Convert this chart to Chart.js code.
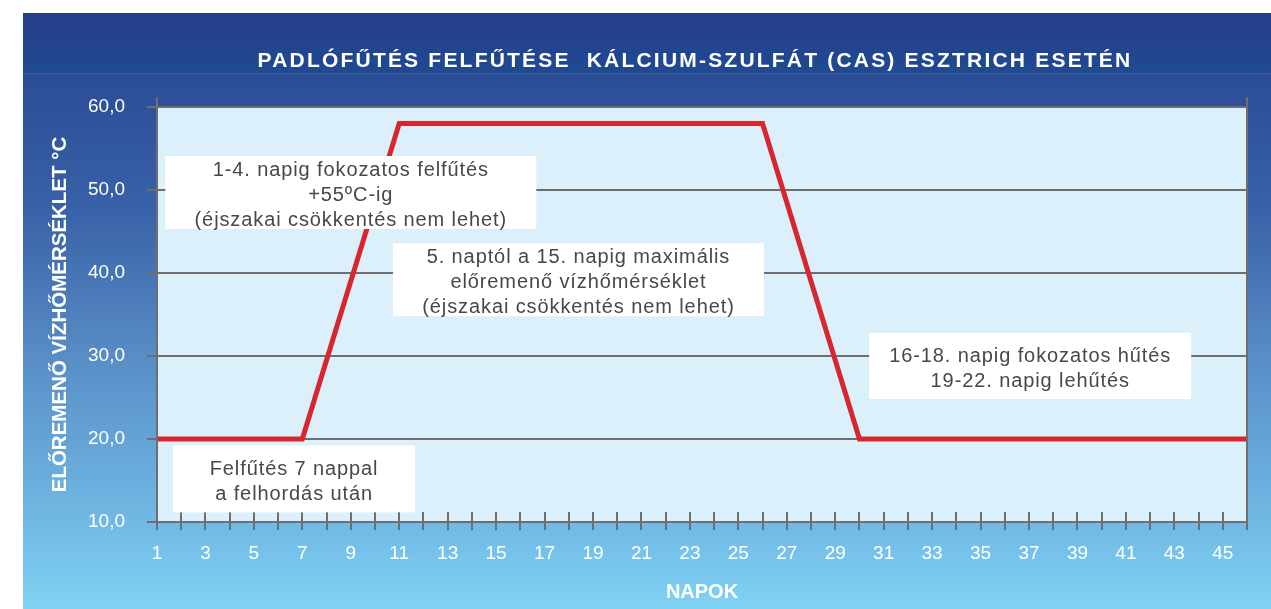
<!DOCTYPE html>
<html>
<head>
<meta charset="utf-8">
<script src="https://cdn.jsdelivr.net/npm/chart.js@4"></script>
<style>
  html, body { margin: 0; padding: 0; background: #fff; }
  #wrap { width: 1271px; height: 609px; }
</style>
</head>
<body>
<div id="wrap"><canvas id="myChart" width="1271" height="609"></canvas></div>
<script>
// data
const days = [1, 7, 11, 26, 30, 46];
const temps = [20, 20, 58, 58, 20, 20];

const chartTitle = "PADLÓFŰTÉS FELFŰTÉSE  KÁLCIUM-SZULFÁT (CAS) ESZTRICH ESETÉN";
const yTitle = "ELŐREMENŐ VÍZHŐMÉRSÉKLET °C";
const xTitle = "NAPOK";

const noteTexts = [
  ["1-4. napig fokozatos felfűtés", "+55ºC-ig", "(éjszakai csökkentés nem lehet)"],
  ["5. naptól a 15. napig maximális", "előremenő vízhőmérséklet", "(éjszakai csökkentés nem lehet)"],
  ["16-18. napig fokozatos hűtés", "19-22. napig lehűtés"],
  ["Felfűtés 7 nappal", "a felhordás után"]
];
// where each note sits (day, temperature) and its box size
const noteDay = [9, 18.4, 37.05, 6.66];
const noteTemp = [49.7, 39.2, 28.8, 15.2];
const noteSize = [[371, 73], [371, 73], [322, 66], [242, 67]];

const FONT = "'Liberation Sans', Arial, sans-serif";
Chart.defaults.font.family = FONT;
const grey = "#6e6e6e";

const backdrop = {
  id: "backdrop",
  beforeDraw(chart) {
    const c = chart.ctx, a = chart.chartArea;
    c.save();
    c.fillStyle = "#fff";
    c.fillRect(0, 0, chart.width, chart.height);
    let g = c.createLinearGradient(0, 73, 0, 609);
    g.addColorStop(0, "#2b4d96");
    g.addColorStop(0.25, "#3861a7");
    g.addColorStop(0.55, "#5a90c8");
    g.addColorStop(0.85, "#72bbe6");
    g.addColorStop(1, "#80d2f3");
    c.fillStyle = g;
    c.fillRect(23, 73, chart.width - 23, chart.height - 73);
    g = c.createLinearGradient(0, 13, 0, 73);
    g.addColorStop(0, "#263e8b");
    g.addColorStop(1, "#1f4a92");
    c.fillStyle = g;
    c.fillRect(23, 13, chart.width - 23, 60);
    c.fillStyle = "rgba(255,255,255,0.05)";
    c.fillRect(23, 73, chart.width - 23, 2);
    // plot background
    c.fillStyle = "#dbf0fb";
    c.fillRect(a.left, a.top, a.right - a.left, a.bottom - a.top);
    // title
    c.fillStyle = "#fff";
    c.font = "bold 21px " + FONT;
    c.letterSpacing = "2.2px";
    c.textAlign = "center";
    c.textBaseline = "middle";
    c.fillText(chartTitle, 695, 61);
    c.restore();
  },
  afterDatasetsDraw(chart) {
    const c = chart.ctx, a = chart.chartArea;
    const xs = chart.scales.x, ys = chart.scales.y;
    c.save();
    // day tick marks crossing the bottom axis, frame at both ends
    c.strokeStyle = grey;
    c.lineWidth = 2;
    for (let d = xs.min; d <= xs.max; d++) {
      const px = Math.round(xs.getPixelForValue(d));
      const top = (d === xs.min || d === xs.max) ? a.top - 10 : a.bottom - 10;
      c.beginPath();
      c.moveTo(px, top);
      c.lineTo(px, a.bottom + 8);
      c.stroke();
    }
    // note boxes
    c.font = "20px " + FONT;
    c.letterSpacing = "0.9px";
    c.textAlign = "center";
    c.textBaseline = "middle";
    noteTexts.forEach((lines, i) => {
      const cx = xs.getPixelForValue(noteDay[i]);
      const cy = ys.getPixelForValue(noteTemp[i]);
      const [w, h] = noteSize[i];
      c.fillStyle = "#fff";
      c.fillRect(cx - w / 2, cy - h / 2, w, h);
      c.fillStyle = "#484848";
      lines.forEach((t, j) => {
        c.fillText(t, cx, cy + (j - (lines.length - 1) / 2) * 25 + 3);
      });
    });
    c.restore();
  }
};

const ctx = document.getElementById("myChart");

new Chart(ctx, {
  type: "line",
  data: {
    datasets: [
      {
        label: "Előremenő vízhőmérséklet",
        data: days.map((d, i) => ({ x: d, y: temps[i] })),
        borderColor: "#d7262e",
        borderWidth: 5,
        pointRadius: 0,
        tension: 0,
        fill: false,
      },
    ],
  },
  options: {
    responsive: false,
    animation: false,
    layout: { padding: { left: 23, right: 24, top: 107, bottom: 0 } },
    plugins: {
      legend: { display: false },
      tooltip: { enabled: false },
    },
    scales: {
      x: {
        type: "linear",
        min: 1,
        max: 46,
        afterFit: (s) => { s.height = 87; },
        grid: { display: true, drawOnChartArea: false, drawTicks: false, color: grey },
        border: { display: true, color: grey, width: 2 },
        ticks: {
          stepSize: 1,
          autoSkip: false,
          maxRotation: 0,
          padding: 20,
          color: "#fff",
          font: { size: 19 },
          callback: (v) => (v % 2 === 1 && v < 46 ? String(v) : ""),
        },
        title: {
          display: true,
          text: xTitle,
          color: "#fff",
          font: { size: 20, weight: "bold" },
          padding: { top: 0, bottom: 5 },
        },
      },
      y: {
        min: 10,
        max: 60,
        afterFit: (s) => { s.width = 134; },
        grid: { color: grey, lineWidth: 2, tickLength: 10 },
        border: { display: true, color: grey, width: 2 },
        ticks: {
          stepSize: 10,
          padding: 22,
          color: "#fff",
          font: { size: 19 },
          callback: (v) => v.toFixed(1).replace(".", ","),
        },
        title: {
          display: true,
          text: yTitle,
          color: "#fff",
          font: { size: 20.5, weight: "bold" },
          padding: { top: 25, bottom: 0 },
        },
      },
    },
  },
  plugins: [backdrop],
});
</script>
</body>
</html>
